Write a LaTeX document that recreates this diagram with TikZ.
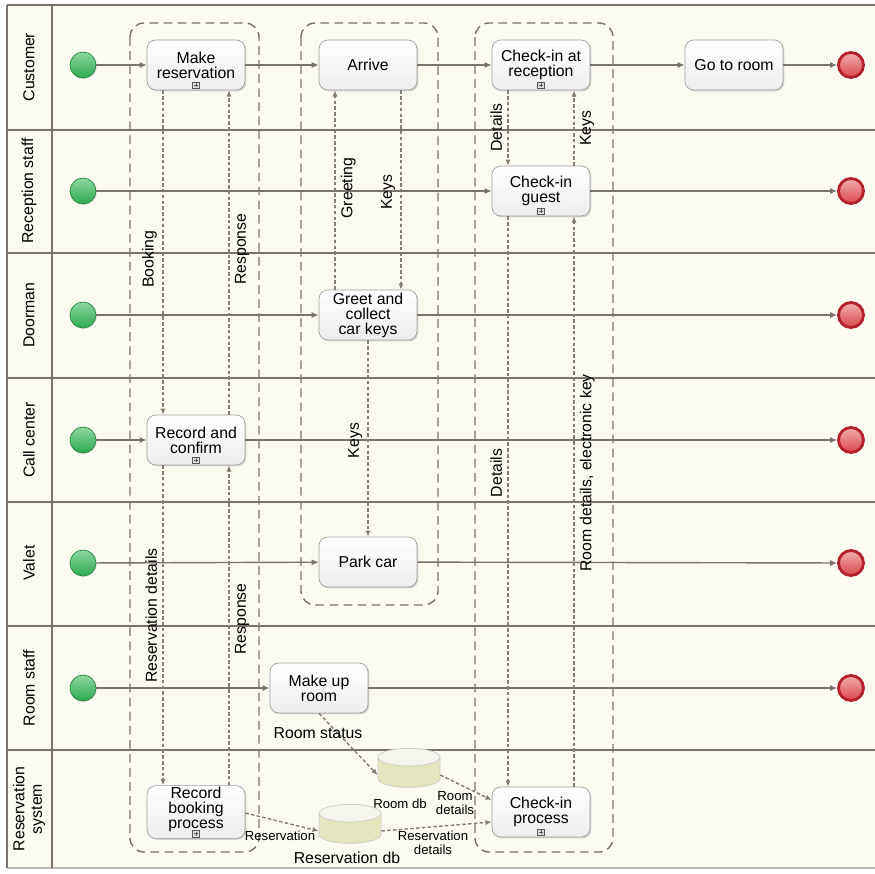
\documentclass[tikz,border=0pt]{standalone}
\usepackage{fontspec}
\setmainfont{Liberation Sans}
\usetikzlibrary{shapes.geometric,arrows.meta,positioning,shadows,calc}

\definecolor{laneline}{HTML}{7A736D}
\definecolor{lanebg}{HTML}{FBFAF1}
\definecolor{msgcol}{HTML}{857C74}
\definecolor{dbbody}{HTML}{E4E6BE}
\definecolor{dbtop}{HTML}{F5F5EE}
\definecolor{startcol}{HTML}{2EA94E}
\definecolor{startlight}{HTML}{8CD8A0}
\definecolor{endcol}{HTML}{D9474B}
\definecolor{endlight}{HTML}{F3AEAE}
\definecolor{endborder}{HTML}{B3222A}

\begin{document}
\begin{tikzpicture}[x=0.02cm, y=-0.02cm,
    task/.style={rectangle, rounded corners=5pt, draw=gray!75, top color=white, bottom color=gray!14,
        minimum width=1.96cm, minimum height=1cm, align=center, inner sep=1pt,
        font=\fontsize{9}{8.5}\selectfont, drop shadow={opacity=0.3, shadow xshift=0.8pt, shadow yshift=-0.8pt}},
    startnode/.style={circle, minimum size=0.52cm, top color=startlight, bottom color=startcol,
        draw=startcol!80!black, line width=0.4pt, drop shadow={opacity=0.2, shadow xshift=0.6pt, shadow yshift=-0.6pt}},
    endnode/.style={circle, minimum size=0.5cm, top color=endlight, bottom color=endcol,
        draw=endborder, line width=1.6pt},
    lanelabel/.style={rotate=90, align=center, font=\fontsize{9}{10}\selectfont},
    flow/.style={draw=laneline, line width=0.8pt, -{Latex[length=4pt, width=3.5pt]}},
    msg/.style={draw=msgcol, line width=0.8pt, dash pattern=on 2pt off 1.3pt, -{Latex[length=3.5pt, width=3pt]}},
    msglabel/.style={rotate=90, font=\fontsize{9}{9}\selectfont, inner sep=3pt},
    small/.style={font=\fontsize{7.5}{8}\selectfont, align=center},
    group/.style={draw=laneline, line width=0.8pt, dash pattern=on 5pt off 3pt, rounded corners=8pt},
    db/.style={cylinder, shape border rotate=90, aspect=1.5, draw=gray!40, cylinder uses custom fill,
        cylinder body fill=dbbody, cylinder end fill=dbtop, minimum width=1.24cm, minimum height=0.78cm},
    marker/.style={rectangle, draw=gray!70!black, fill=gray!25, line width=0.3pt, minimum size=0.13cm, inner sep=0pt,
        path picture={\draw[line width=0.3pt] (path picture bounding box.center) +(-1.2pt,0) -- +(1.2pt,0)
            (path picture bounding box.center) +(0,-1.2pt) -- +(0,1.2pt);}}
]
    \useasboundingbox (0,0) rectangle (875,873);

    % Lanes
    \fill[lanebg] (7,5) rectangle (875,868);
    \foreach \y in {5,130,253,378,502,626,750}
        \draw[laneline, line width=0.9pt] (7,\y) -- (875,\y);
    \draw[laneline!50, line width=0.6pt] (7,868) -- (875,868);
    \draw[laneline, line width=0.9pt] (7,5) -- (7,868) (52,5) -- (52,868);
    \foreach \y/\name in {67/Customer, 191/Reception staff, 315/Doorman, 440/Call center,
                          563/Valet, 688/Room staff, 809/{Reservation\\system}}
        \node[lanelabel] (lane\y) at (29,\y) {\name};

    % Groups
    \draw[group] (130,23) rectangle (259,852);
    \draw[group] (301,23) rectangle (438,605);
    \draw[group] (475,23) rectangle (613,852);

    % Events
    \foreach \y/\n in {65/cust, 191/rec, 315/door, 440/call, 563/valet, 688/room} {
        \node[startnode] (\n-s) at (83,\y) {};
        \node[endnode] (\n-e) at (851,\y) {};
    }

    % Tasks
    \node[task] (mkres) at (196,65) {Make\\reservation};
    \node[task] (arrive) at (368,65) {Arrive};
    \node[task] (checkrec) at (541,65) {Check-in at\\reception};
    \node[task] (goroom) at (734,65) {Go to room};
    \node[task] (checkguest) at (541,191) {Check-in\\guest};
    \node[task] (greet) at (368,315) {Greet and\\collect\\car keys};
    \node[task] (recconf) at (196,440) {Record and\\confirm};
    \node[task] (park) at (368,562) {Park car};
    \node[task] (mkroom) at (319,688) {Make up\\room};
    \node[task] (recbook) at (196,812) {Record\\booking\\process\\[-4pt]\mbox{}};
    \node[task] (checkproc) at (541,812) {Check-in\\process};
    \foreach \t in {mkres,checkrec,checkguest,recconf,recbook,checkproc}
        \node[marker] (\t-m) at ([shift={(0,-5)}]\t.south) {};

    % Data stores
    \node[db] (roomdb) at (409,775) {};
    \node[small] (roomdblabel) at (400,804) {Room db};
    \node[db] (resdb) at (350,831) {};
    \node[font=\fontsize{9}{9}\selectfont] (resdblabel) at (347,858) {Reservation db};

    % Sequence flows
    \draw[flow] (cust-s) -- (mkres);
    \draw[flow] (mkres) -- (arrive);
    \draw[flow] (arrive) -- (checkrec);
    \draw[flow] (checkrec) -- (goroom);
    \draw[flow] (goroom) -- (cust-e);
    \draw[flow] (rec-s) -- (checkguest);
    \draw[flow] (checkguest) -- (rec-e);
    \draw[flow] (door-s) -- (greet);
    \draw[flow] (greet) -- (door-e);
    \draw[flow] (call-s) -- (recconf);
    \draw[flow] (recconf) -- (call-e);
    \draw[flow] (valet-s) -- (park);
    \draw[flow] (park) -- (valet-e);
    \draw[flow] (room-s) -- (mkroom);
    \draw[flow] (mkroom) -- (room-e);

    % Message flows
    \draw[msg] ([shift={(-33,0)}]mkres.south) -- ([shift={(-33,0)}]recconf.north)
        node[msglabel, pos=0.52, anchor=south] {Booking};
    \draw[msg] ([shift={(33,0)}]recconf.north) -- ([shift={(33,0)}]mkres.south)
        node[msglabel, pos=0.51, anchor=north] {Response};
    \draw[msg] ([shift={(-33,0)}]recconf.south) -- ([shift={(-33,0)}]recbook.north)
        node[msglabel, pos=0.47, anchor=south] {Reservation details};
    \draw[msg] ([shift={(33,0)}]recbook.north) -- ([shift={(33,0)}]recconf.south)
        node[msglabel, pos=0.52, anchor=north] {Response};
    \draw[msg] ([shift={(-33,0)}]greet.north) -- ([shift={(-33,0)}]arrive.south)
        node[msglabel, pos=0.51, anchor=north] {Greeting};
    \draw[msg] ([shift={(33,0)}]arrive.south) -- ([shift={(33,0)}]greet.north)
        node[msglabel, pos=0.51, anchor=south] {Keys};
    \draw[msg] (greet.south) -- (park.north)
        node[msglabel, pos=0.51, anchor=south] {Keys};
    \draw[msg] ([shift={(-33,0)}]checkrec.south) -- ([shift={(-33,0)}]checkguest.north)
        node[msglabel, pos=0.49, anchor=south] {Details};
    \draw[msg] ([shift={(33,0)}]checkguest.north) -- ([shift={(33,0)}]checkrec.south)
        node[msglabel, pos=0.5, anchor=north] {Keys};
    \draw[msg] ([shift={(-33,0)}]checkguest.south) -- ([shift={(-33,0)}]checkproc.north)
        node[msglabel, pos=0.45, anchor=south] {Details};
    \draw[msg] ([shift={(33,0)}]checkproc.north) -- ([shift={(33,0)}]checkguest.south)
        node[msglabel, pos=0.55, anchor=north] {Room details, electronic key};

    % Data associations
    \draw[msg] (mkroom.south) -- (roomdb.west);
    \node[font=\fontsize{9}{9}\selectfont] (rstatus) at (318,733) {Room status};
    \draw[msg] (roomdb.east) -- ([shift={(0,-12)}]checkproc.west);
    \node[small] (rdetails) at (455,803) {Room\\details};
    \draw[msg] ([shift={(0,1)}]recbook.east) -- (resdb.west);
    \node[small] (reslabel) at (280,836) {Reservation};
    \draw[msg] (resdb.east) -- ([shift={(0,10)}]checkproc.west);
    \node[small] (resdetails) at (433,843) {Reservation\\details};
\end{tikzpicture}
\end{document}
